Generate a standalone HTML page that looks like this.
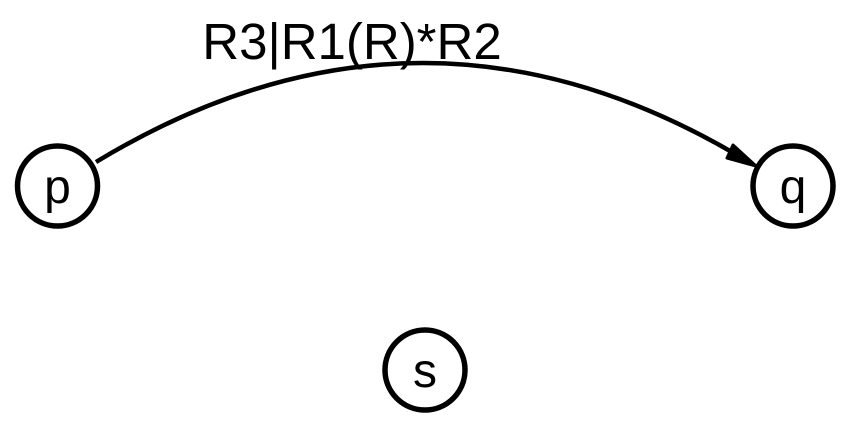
<!DOCTYPE html>
<html><head><meta charset="utf-8"><style>
html,body{margin:0;padding:0;background:#fff;width:841px;height:427px;overflow:hidden}
svg text{font-family:"Liberation Sans",Arial,sans-serif}
</style></head><body>
<svg width="841" height="427" viewBox="0 0 841 427">
<g>
<path d="M96,162 Q425,-37 752,164" fill="none" stroke="#000" stroke-width="4.5"/>
<path d="M733,145 L756,166 L727,158 Z" fill="#000" stroke="#000" stroke-width="3" stroke-linejoin="round"/>
<text x="352" y="59" font-size="51" text-anchor="middle">R3|R1(R)*R2</text>
</g>
<g>
<circle cx="57.5" cy="186" r="40" fill="#fff" stroke="#000" stroke-width="5.5"/>
<text x="57.5" y="203" font-size="48" text-anchor="middle">p</text>
</g>
<g>
<circle cx="793" cy="186" r="40" fill="#fff" stroke="#000" stroke-width="5.5"/>
<text x="793" y="203" font-size="48" text-anchor="middle">q</text>
</g>
<g>
<circle cx="425" cy="370" r="40" fill="#fff" stroke="#000" stroke-width="5.5"/>
<text x="425" y="387" font-size="48" text-anchor="middle">s</text>
</g>
</svg>
</body></html>
